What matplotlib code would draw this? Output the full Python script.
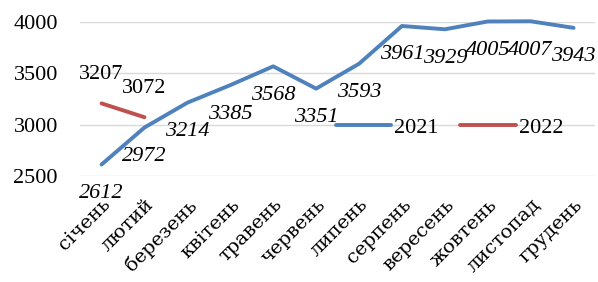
import matplotlib
matplotlib.use("Agg")
from matplotlib import pyplot as plt

months = ["січень", "лютий", "березень", "квітень", "травень", "червень",
          "липень", "серпень", "вересень", "жовтень", "листопад", "грудень"]
y2021 = [2612, 2972, 3214, 3385, 3568, 3351, 3593, 3961, 3929, 4005, 4007, 3943]
y2022 = [3207, 3072]

blue = "#4F81BD"
red = "#C0504D"
font = "Liberation Serif"
fs = 16

fig = plt.figure(figsize=(5.98, 2.82), dpi=100)
ax = fig.add_axes([0.134, 0.376, 0.861, 0.546])

x = list(range(len(months)))
ax.plot(x, y2021, color=blue, lw=2.8, label="2021", solid_capstyle="round",
        solid_joinstyle="round", zorder=3, clip_on=False)
ax.plot(x[:len(y2022)], y2022, color=red, lw=2.8, label="2022", solid_capstyle="round",
        zorder=3, clip_on=False)

for xi, v in zip(x, y2021):
    ax.annotate(str(v), (xi, v), xytext=(0, -14), textcoords="offset points",
                ha="center", va="top", fontsize=fs, style="italic", family=font,
                annotation_clip=False)
for xi, v in zip(x, y2022):
    ax.annotate(str(v), (xi, v), xytext=(0, 14), textcoords="offset points",
                ha="center", va="bottom", fontsize=fs, family=font,
                annotation_clip=False)

ax.set_xlim(-0.5, len(months) - 0.5)
ax.set_ylim(2500, 4000)
ax.set_yticks([2500, 3000, 3500, 4000])
ax.set_xticks(x)
ax.set_xticklabels(months, rotation=45, ha="right", rotation_mode="anchor")
for lab in ax.get_yticklabels():
    lab.set_fontfamily(font)
    lab.set_fontsize(fs)
for lab in ax.get_xticklabels():
    lab.set_fontfamily("DejaVu Serif")
    lab.set_fontsize(14)
ax.tick_params(axis="y", length=0, pad=16)
ax.tick_params(axis="x", length=0, pad=14)
ax.grid(axis="y", color="#D9D9D9", lw=1)
ax.set_axisbelow(True)
for s in ax.spines.values():
    s.set_visible(False)

ax.legend(loc="center left", bbox_to_anchor=(0.496, 0.312), ncol=2, frameon=False,
          prop={"family": font, "size": fs}, handlelength=2.5, columnspacing=0.95,
          handletextpad=0.15, borderaxespad=0, borderpad=0)

fig.savefig("out.png", dpi=100)
